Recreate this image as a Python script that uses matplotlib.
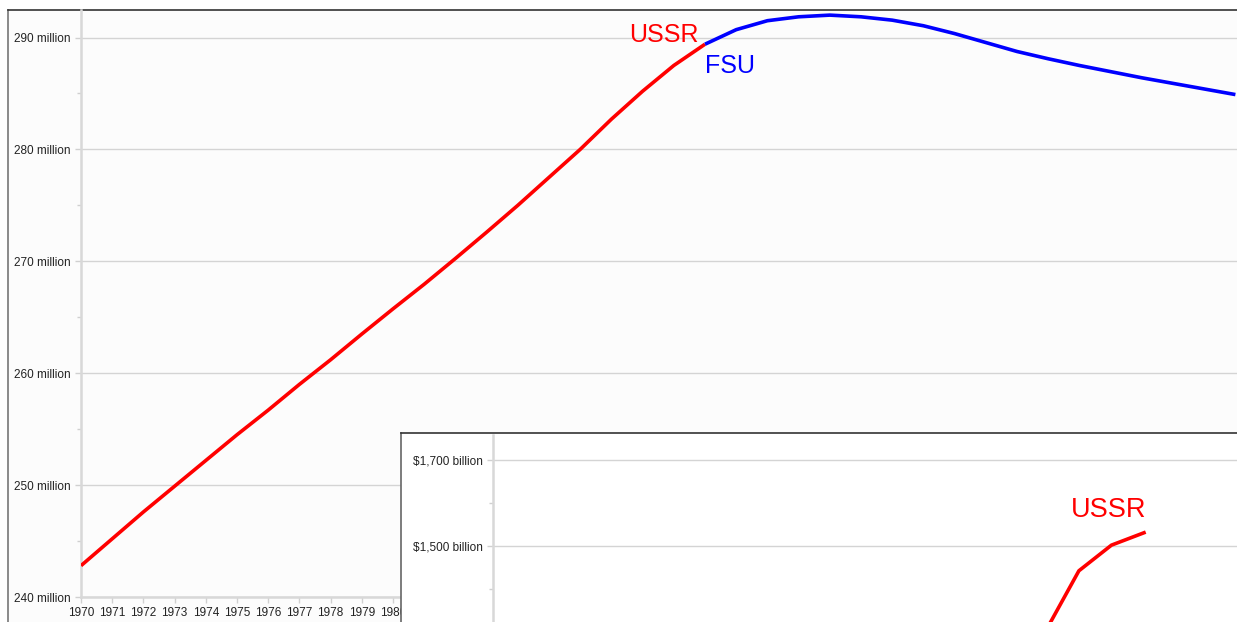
import matplotlib
matplotlib.use('Agg')
import matplotlib.pyplot as plt

plt.rcParams['font.family'] = ['Liberation Sans', 'DejaVu Sans']

# USSR / FSU population, millions
ussr_years = [1970, 1971, 1972, 1973, 1974, 1975, 1976, 1977, 1978, 1979,
              1980, 1981, 1982, 1983, 1984, 1985, 1986, 1987, 1988, 1989, 1990]
ussr_pop = [242.8, 245.2, 247.6, 249.9, 252.2, 254.5, 256.7, 259.0, 261.2, 263.5,
            265.75, 267.95, 270.25, 272.6, 275.0, 277.5, 280.0, 282.7, 285.2, 287.5, 289.4]
fsu_years = [1990, 1991, 1992, 1993, 1994, 1995, 1996, 1997, 1998, 1999,
             2000, 2001, 2002, 2003, 2004, 2005, 2006, 2007]
fsu_pop = [289.4, 290.7, 291.5, 291.85, 292.0, 291.85, 291.55, 291.05, 290.35, 289.55,
           288.75, 288.1, 287.5, 286.95, 286.4, 285.9, 285.4, 284.9]
pop_ticks = [240, 250, 260, 270, 280, 290]
pop_labels = ['240 million', '250 million', '260 million', '270 million', '280 million', '290 million']
year_ticks = list(range(1970, 2007))

# inset: USSR GDP, billions of dollars (only the top of the curve is visible)
gdp_years = [1987, 1988, 1989, 1990]
gdp_vals = [1304, 1442, 1502, 1531]
gdp_ticks = [1500, 1700]
gdp_labels = ['$1,500 billion', '$1,700 billion']

W, H = 1237, 622
fig = plt.figure(figsize=(W / 100, H / 100), dpi=100, facecolor='white')

def box(l, t, r, b):
    return [l / W, (H - b) / H, (r - l) / W, (b - t) / H]

# outer chart frame
frame = fig.add_axes(box(8, 10, W + 5, H + 5), zorder=0)
frame.set_facecolor('#fcfcfc')
frame.set_xticks([])
frame.set_yticks([])
for s in ['right', 'bottom']:
    frame.spines[s].set_visible(False)
frame.spines['top'].set_color('#333333')
frame.spines['left'].set_color('#777777')
frame.spines['top'].set_linewidth(1.2)
frame.spines['left'].set_linewidth(1.2)

# main population chart
ax = fig.add_axes(box(81, 10, W, 597), zorder=1)
ax.patch.set_alpha(0)
red = '#ff0000'
blue = '#0000ff'
ax.plot(ussr_years, ussr_pop, color=red, lw=2.6, solid_capstyle='butt', zorder=3)
ax.plot(fsu_years, fsu_pop, color=blue, lw=2.6, solid_capstyle='butt', zorder=3)
ax.set_xlim(1970, 1970 + (W - 81) / 31.2)
ax.set_ylim(240, 240 + 587 / 11.19)
ax.set_yticks(pop_ticks)
ax.set_yticklabels(pop_labels)
ax.set_yticks([245, 255, 265, 275, 285], minor=True)
ax.set_xticks(year_ticks)
ax.set_xticklabels([str(y) for y in year_ticks])
ax.grid(axis='y', color='#d4d4d4', lw=1.0)
ax.set_axisbelow(True)
for s in ['top', 'right']:
    ax.spines[s].set_visible(False)
for s in ['left', 'bottom']:
    ax.spines[s].set_color('#d8d8d8')
    ax.spines[s].set_linewidth(1.8)
ax.tick_params(axis='both', which='major', length=4.5, width=1, color='#d0d0d0',
               labelsize=8.5, labelcolor='#222222', pad=3)
ax.tick_params(axis='y', which='minor', length=3, width=1, color='#d0d0d0')
ax.text(1989.78, 289.63, 'USSR', color=red, fontsize=18, ha='right', va='baseline')
ax.text(1990.0, 286.8, 'FSU', color=blue, fontsize=18, ha='left', va='baseline')

# inset frame
inframe = fig.add_axes(box(401, 433, W + 5, H + 5), zorder=2)
inframe.set_facecolor('white')
inframe.set_xticks([])
inframe.set_yticks([])
for s in ['right', 'bottom']:
    inframe.spines[s].set_visible(False)
inframe.spines['top'].set_color('#333333')
inframe.spines['left'].set_color('#666666')
inframe.spines['top'].set_linewidth(1.2)
inframe.spines['left'].set_linewidth(1.2)

# inset GDP chart
ppy = 32.55
ppb = 0.4275
ax2 = fig.add_axes(box(493, 435, W, H), zorder=3)
ax2.patch.set_alpha(0)
ax2.plot(gdp_years, gdp_vals, color=red, lw=2.6, zorder=3)
ax2.set_xlim(1970, 1970 + (W - 493) / ppy)
ax2.set_ylim(1500 - (H - 546) / ppb, 1500 + (546 - 435) / ppb)
ax2.set_yticks(gdp_ticks)
ax2.set_yticklabels(gdp_labels)
ax2.set_yticks([1400, 1600], minor=True)
ax2.set_xticks([])
ax2.grid(axis='y', color='#d4d4d4', lw=1.0)
ax2.set_axisbelow(True)
for s in ['top', 'right', 'bottom']:
    ax2.spines[s].set_visible(False)
ax2.spines['left'].set_color('#d8d8d8')
ax2.spines['left'].set_linewidth(1.8)
ax2.tick_params(axis='y', which='major', length=4.5, width=1, color='#d0d0d0',
                labelsize=8.5, labelcolor='#222222', pad=3)
ax2.tick_params(axis='y', which='minor', length=3, width=1, color='#d0d0d0')
ax2.text(1990.06, 1567, 'USSR', color=red, fontsize=19.5, ha='right', va='baseline')

fig.savefig('out.png', dpi=100, facecolor='white')
